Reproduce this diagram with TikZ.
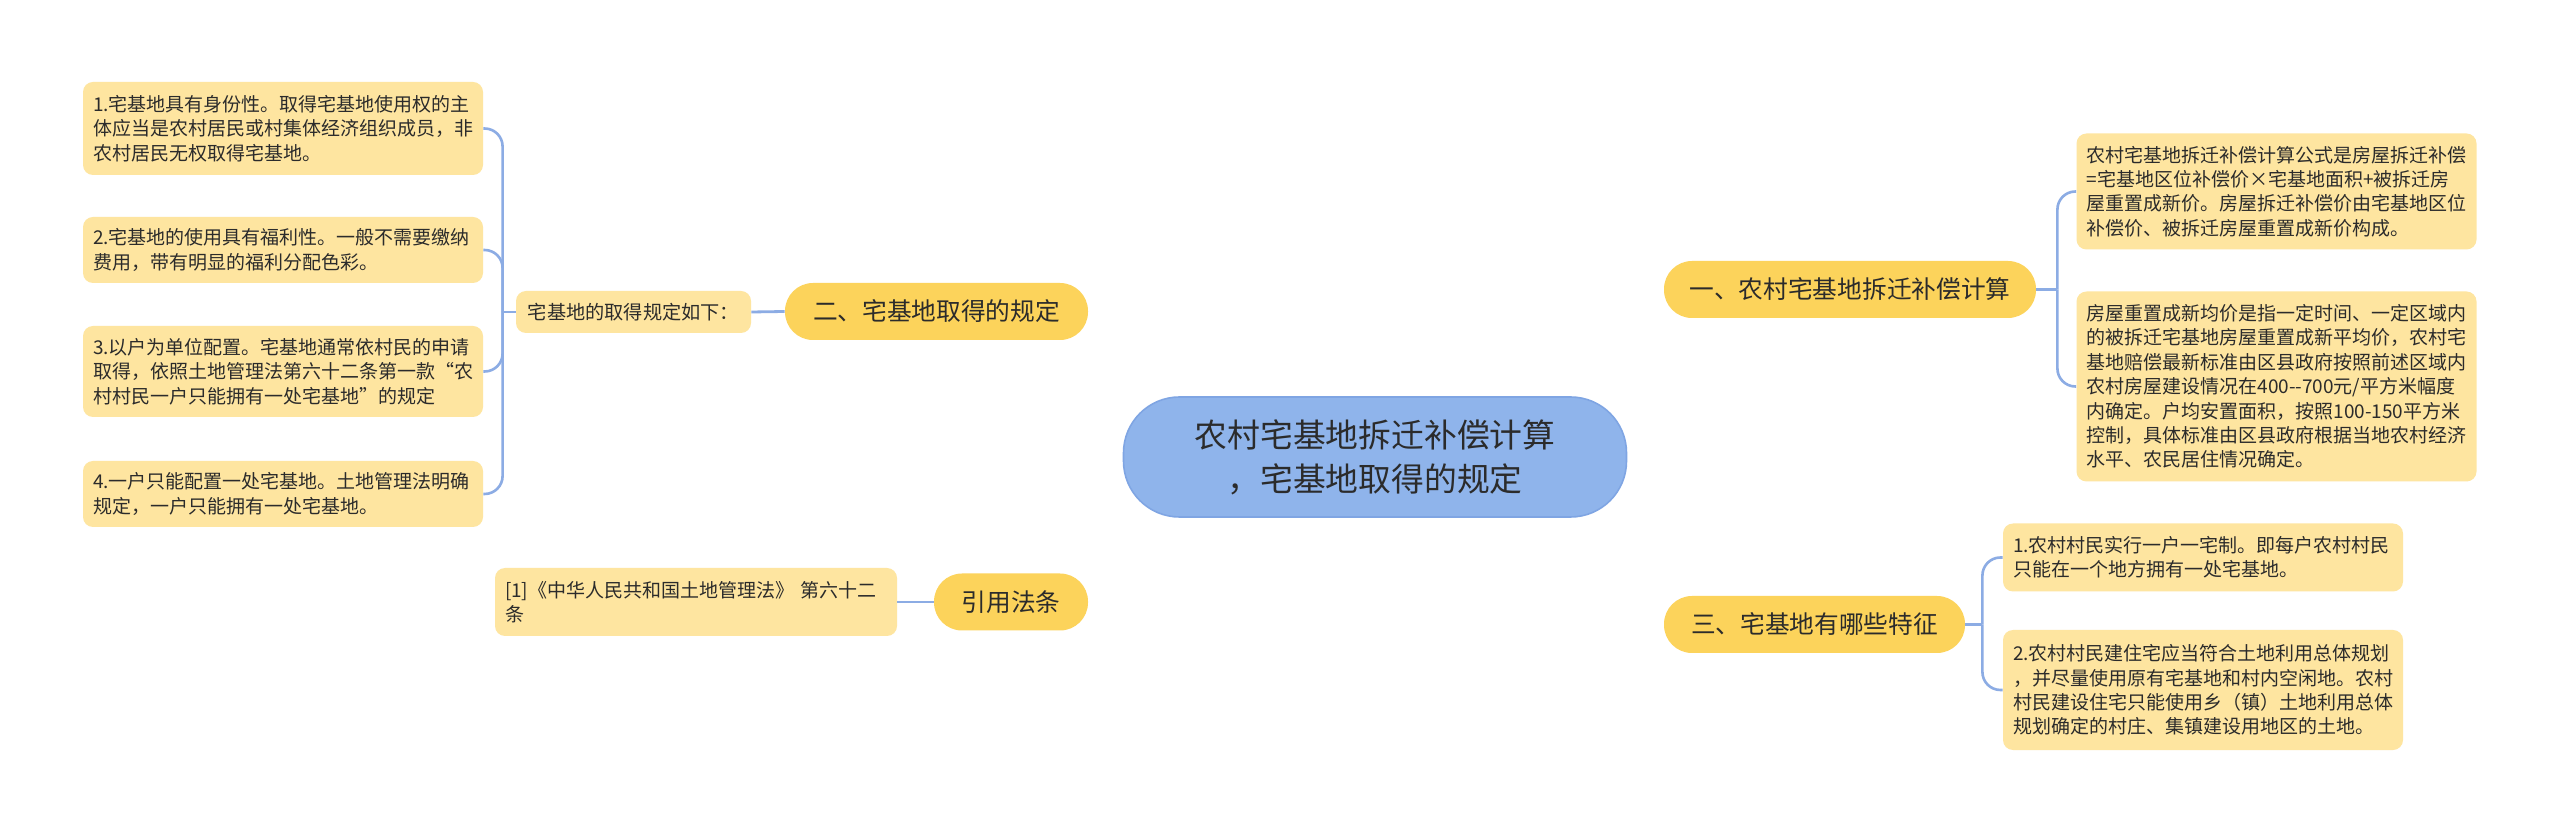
\documentclass[tikz,border=0pt]{standalone}
\usepackage{fontspec}
\setmainfont{Noto Sans CJK SC}
\usetikzlibrary{calc,backgrounds}
\definecolor{linec}{HTML}{8CACE4}
\definecolor{cfill}{HTML}{8FB4EB}
\definecolor{cdraw}{HTML}{7FA5E3}
\definecolor{bfill}{HTML}{FCD35B}
\definecolor{lfill}{HTML}{FEE5A0}
\definecolor{tcol}{HTML}{2B2B2B}
\tikzset{
  centernode/.style={draw=cdraw, fill=cfill, line width=0.8pt, rounded corners=28pt,
    minimum width=251.5pt, minimum height=60pt, align=center, text=tcol,
    font=\fontsize{16.4}{22}\selectfont},
  branchnode/.style={fill=bfill, rounded corners=14pt, minimum height=28.5pt,
    inner xsep=0pt, text=tcol, font=\fontsize{12.35}{15}\selectfont},
  leafnode/.style={fill=lfill, rounded corners=5pt, text width=190pt, inner xsep=5pt,
    inner ysep=0pt, align=left, text=tcol, font=\fontsize{9.5}{12.2}\selectfont},
  subnode/.style={fill=lfill, rounded corners=5pt, minimum width=117.5pt,
    minimum height=21pt, inner xsep=0pt, text=tcol, font=\fontsize{9.6}{12}\selectfont},
  conn/.style={draw=linec, line width=1.4pt},
  brk/.style={draw=linec, line width=1.3pt, rounded corners=9pt}
}
\begin{document}
\begin{tikzpicture}[x=0.5pt,y=-0.5pt]
\fill[white] (0,0) rectangle (2560,833);
\useasboundingbox (0,0) rectangle (2560,833);

% centre
\node[centernode] (C) at (1375,457) {农村宅基地拆迁补偿计算\\，宅基地取得的规定};

% branches
\node[branchnode, minimum width=186pt] (B1) at (1850,289.5) {一、农村宅基地拆迁补偿计算};
\node[branchnode, minimum width=150.5pt] (B3) at (1814.5,624.5) {三、宅基地有哪些特征};
\node[branchnode, minimum width=151.5pt] (B2) at (936.5,311.5) {二、宅基地取得的规定};
\node[branchnode, minimum width=77pt] (B4) at (1011,602) {引用法条};

% left leaves
\node[leafnode, minimum height=46.5pt] (L1) at (283,128.5) {1.宅基地具有身份性。取得宅基地使用权的主\\体应当是农村居民或村集体经济组织成员，非\\农村居民无权取得宅基地。};
\node[leafnode, minimum height=33pt] (L2) at (283,250) {2.宅基地的使用具有福利性。一般不需要缴纳\\费用，带有明显的福利分配色彩。};
\node[leafnode, minimum height=45.5pt] (L3) at (283,371.5) {3.以户为单位配置。宅基地通常依村民的申请\\取得，依照土地管理法第六十二条第一款“农\\村村民一户只能拥有一处宅基地”的规定};
\node[leafnode, minimum height=33pt] (L4) at (283,494) {4.一户只能配置一处宅基地。土地管理法明确\\规定，一户只能拥有一处宅基地。};
\node[subnode] (S) at (633.5,312) {宅基地的取得规定如下：};

\node[leafnode, text width=191pt, minimum height=34pt] (CT) at (696,602) {\relax[1]《中华人民共和国土地管理法》 第六十二\\条};

% right leaves
\node[leafnode, minimum height=58pt] (R1a) at (2276.5,191.5) {农村宅基地拆迁补偿计算公式是房屋拆迁补偿\\=宅基地区位补偿价×宅基地面积+被拆迁房\\屋重置成新价。房屋拆迁补偿价由宅基地区位\\补偿价、被拆迁房屋重置成新价构成。};
\node[leafnode, minimum height=95pt] (R1b) at (2276.5,386.5) {房屋重置成新均价是指一定时间、一定区域内\\的被拆迁宅基地房屋重置成新平均价，农村宅\\基地赔偿最新标准由区县政府按照前述区域内\\农村房屋建设情况在400\mbox{-}\mbox{-}700元/平方米幅度\\内确定。户均安置面积，按照100-150平方米\\控制，具体标准由区县政府根据当地农村经济\\水平、农民居住情况确定。};
\node[leafnode, minimum height=34pt] (R3a) at (2203,557.5) {1.农村村民实行一户一宅制。即每户农村村民\\只能在一个地方拥有一处宅基地。};
\node[leafnode, minimum height=60pt] (R3b) at (2203,690) {2.农村村民建住宅应当符合土地利用总体规划\\，并尽量使用原有宅基地和村内空闲地。农村\\村民建设住宅只能使用乡（镇）土地利用总体\\规划确定的村庄、集镇建设用地区的土地。};

\begin{pgfonlayer}{background}
  \draw[conn] (C.center) .. controls (C.center |- B1.west) .. (B1.west);
  \draw[conn] (C.center) .. controls (C.center |- B3.west) .. (B3.west);
  \draw[conn] (C.center) .. controls (C.center |- B2.east) .. (B2.east);
  \draw[conn] (C.center) .. controls (C.center |- B4.east) .. (B4.east);
\end{pgfonlayer}

% right bracket 1
\coordinate (J1) at ($(B1.east)+(10.5pt,0)$);
\draw[conn] (B1.east) -- (J1);
\draw[brk] (J1) |- (R1a.west);
\draw[brk] (J1) |- (R1b.west);

% right bracket 3
\coordinate (J3) at ($(B3.east)+(8.5pt,0)$);
\draw[conn] (B3.east) -- (J3);
\draw[brk] (J3) |- (R3a.west);
\draw[brk] (J3) |- (R3b.west);

% left side
\draw[conn] (S.east) -- (B2.west);
\coordinate (J2) at ($(S.west)+(-6.5pt,0)$);
\draw[conn] (S.west) -- (J2);
\draw[brk] (J2) |- (L1.east);
\draw[brk] (J2) |- (L2.east);
\draw[brk] (J2) |- (L3.east);
\draw[brk] (J2) |- (L4.east);

\draw[conn] (CT.east) -- (B4.west);
\end{tikzpicture}
\end{document}
